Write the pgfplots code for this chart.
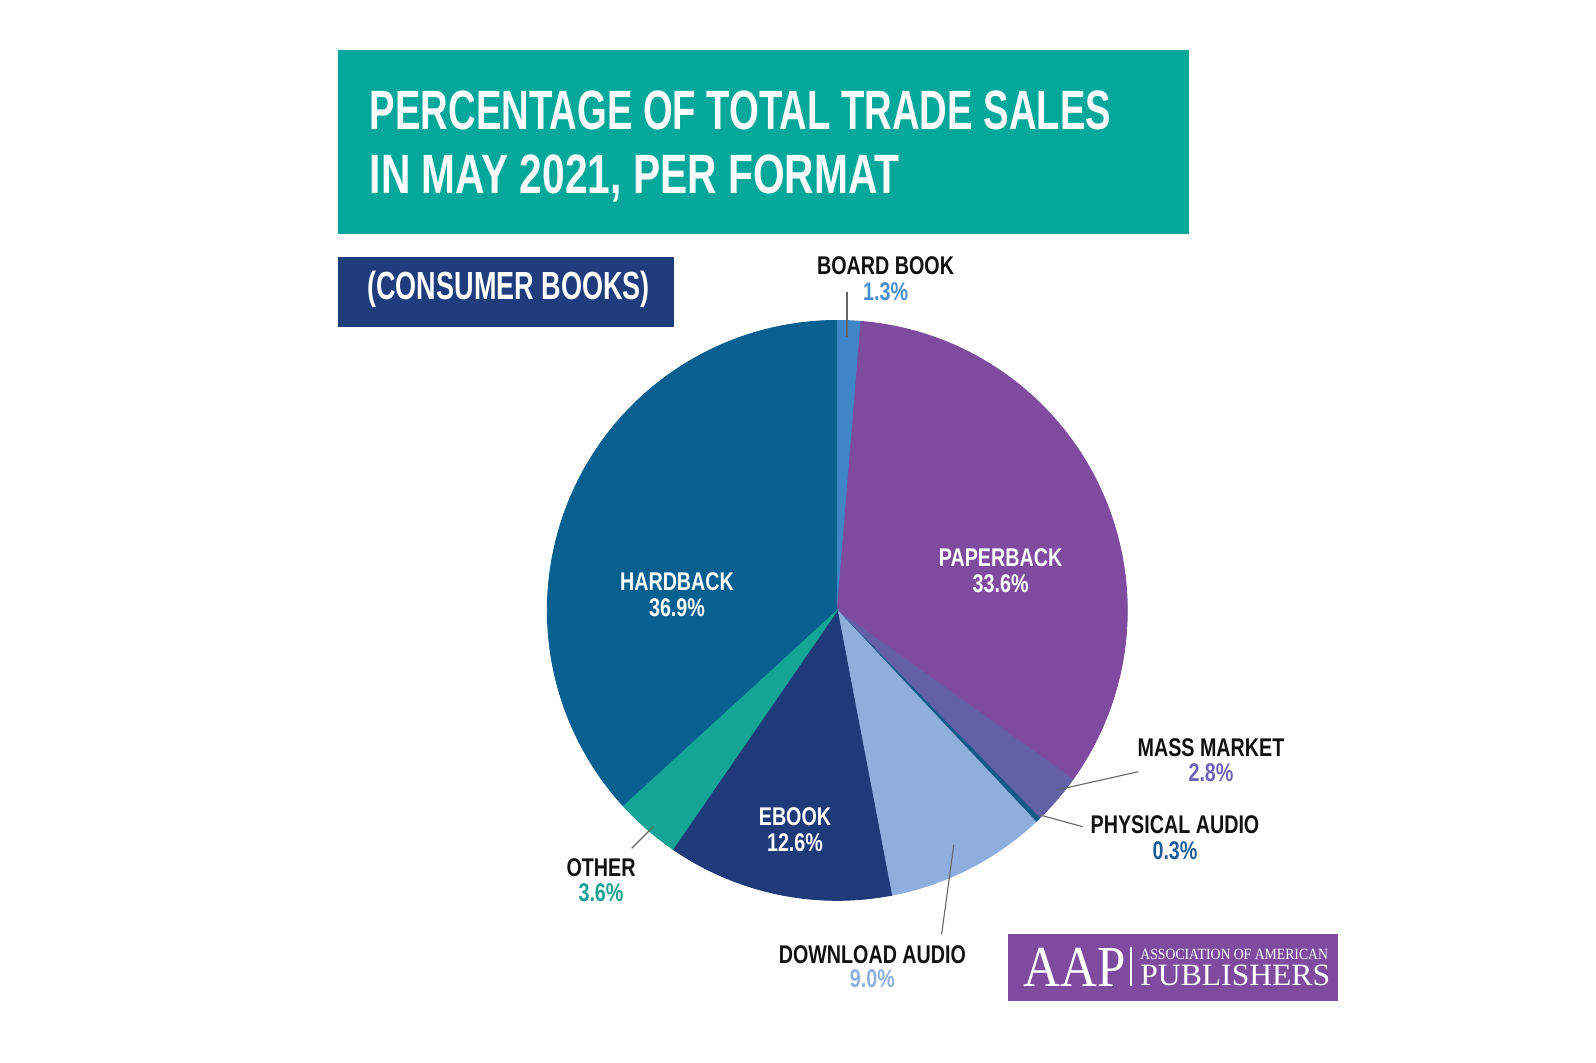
\documentclass[border=0pt]{standalone}
\usepackage{pgfplots}
\pgfplotsset{compat=1.18}
\usepackage{fontspec}
\setmainfont{Liberation Sans}
\newfontfamily\condA[FakeStretch=0.69]{Liberation Sans}
\newfontfamily\condAA[FakeStretch=0.735]{Liberation Sans}
\newfontfamily\condB[FakeStretch=0.77]{Liberation Sans}
\newfontfamily\serifA[FakeStretch=0.88]{Liberation Serif}
\newfontfamily\serifB[FakeStretch=0.88]{Liberation Serif}
\newfontfamily\serifC[FakeStretch=1.02]{Liberation Serif}

\definecolor{titleteal}{HTML}{03A89B}
\definecolor{subnavy}{HTML}{1F3C7C}
\definecolor{logopurple}{HTML}{7E4B9E}
\definecolor{cHard}{HTML}{07608F}
\definecolor{cBoard}{HTML}{3E86C6}
\definecolor{cPaper}{HTML}{7E4B9E}
\definecolor{cMass}{HTML}{6360A8}
\definecolor{cPhys}{HTML}{125B88}
\definecolor{cDown}{HTML}{8EAEDD}
\definecolor{cEbook}{HTML}{1F3A78}
\definecolor{cOther}{HTML}{14A596}
\definecolor{tBoard}{HTML}{4A8FD0}
\definecolor{tMass}{HTML}{6B63B5}
\definecolor{tPhys}{HTML}{1F5E99}
\definecolor{tOther}{HTML}{17A393}
\definecolor{tDown}{HTML}{8EB0DF}
\definecolor{lead}{HTML}{666666}
\definecolor{ink}{HTML}{111111}

% slice: colour, cumulative percent before, cumulative percent after (clockwise from top)
\newcommand{\pieslice}[3]{%
  \addplot[fill=#1, draw=#1, line width=0.4pt, data cs=polar,
    domain={90-3.6*(#3)}:{90-3.6*(#2)}, samples=120]
    ({x},{290}) -- (axis cs:0,0) -- cycle;}

\begin{document}
\begin{tikzpicture}
\path[use as bounding box] (0,0) rectangle (798pt,531pt);
\begin{axis}[
  at={(0,0)}, anchor=south west,
  scale only axis, width=798pt, height=531pt,
  xmin=-837.3, xmax=758.7, ymin=-451.6, ymax=610.4,
  hide axis, clip=false]
% values (percent): Hardback 36.9, Board book 1.3, Paperback 33.6, Mass market 2.8,
% Physical audio 0.3, Download audio 9.0, Ebook 12.6, Other 3.6
\pieslice{cHard}{1.3+33.6+2.8+0.3+9.0+12.6+3.6}{1.3+33.6+2.8+0.3+9.0+12.6+3.6+36.9}
\pieslice{cBoard}{0}{1.3}
\pieslice{cPaper}{1.3}{1.3+33.6}
\pieslice{cMass}{1.3+33.6}{1.3+33.6+2.8}
\pieslice{cPhys}{1.3+33.6+2.8}{1.3+33.6+2.8+0.3}
\pieslice{cDown}{1.3+33.6+2.8+0.3}{1.3+33.6+2.8+0.3+9.0}
\pieslice{cEbook}{1.3+33.6+2.8+0.3+9.0}{1.3+33.6+2.8+0.3+9.0+12.6}
\pieslice{cOther}{1.3+33.6+2.8+0.3+9.0+12.6}{1.3+33.6+2.8+0.3+9.0+12.6+3.6}
\end{axis}

\begin{scope}[x=0.5pt, y=-0.5pt, shift={(0pt,531pt)}]
% title boxes
\fill[titleteal] (338,50) rectangle (1188.5,234.5);
\fill[subnavy] (338,256.7) rectangle (674,326.7);
\fill[logopurple] (1008,934) rectangle (1337.5,1000.5);

\node[anchor=base west, inner sep=0, text=white, font=\condA\bfseries\fontsize{27.7}{30}\selectfont] at (369.5,129.3) {PERCENTAGE OF TOTAL TRADE SALES};
\node[anchor=base west, inner sep=0, text=white, font=\condAA\bfseries\fontsize{27.7}{30}\selectfont] at (369.5,193.4) {IN MAY 2021, PER FORMAT};
\node[anchor=base west, inner sep=0, text=white, font=\condA\bfseries\fontsize{19.6}{22}\selectfont] at (367,300) {(CONSUMER BOOKS)};

% leader lines
\draw[lead, line width=0.55pt] (847,292) -- (847,337);
\draw[lead, line width=0.55pt] (1138.3,771.7) -- (1056.7,790);
\draw[lead, line width=0.55pt] (1082.7,826.7) -- (1040,815);
\draw[lead, line width=0.55pt] (631.7,848.3) -- (653.3,826.7);
\draw[lead, line width=0.55pt] (941.6,934.4) -- (953.8,844.9);

\tikzset{lab/.style={anchor=base, inner sep=0, font=\condB\bfseries\fontsize{12.8}{14}\selectfont}}
\node[lab, text=ink] at (885.6,274.8) {BOARD BOOK};
\node[lab, text=tBoard] at (885.6,301) {1.3\%};
\node[lab, text=white] at (1000.6,567) {PAPERBACK};
\node[lab, text=white] at (1000.6,592.4) {33.6\%};
\node[lab, text=white] at (677,590.4) {HARDBACK};
\node[lab, text=white] at (677,616.9) {36.9\%};
\node[lab, text=white] at (795,825.5) {EBOOK};
\node[lab, text=white] at (795,851) {12.6\%};
\node[lab, text=ink] at (1211,756) {MASS MARKET};
\node[lab, text=tMass] at (1211,781.5) {2.8\%};
\node[lab, text=ink] at (1175,833.7) {PHYSICAL AUDIO};
\node[lab, text=tPhys] at (1175,859) {0.3\%};
\node[lab, text=ink] at (601,876) {OTHER};
\node[lab, text=tOther] at (601,901) {3.6\%};
\node[lab, text=ink] at (872.4,963) {DOWNLOAD AUDIO};
\node[lab, text=tDown] at (872.4,987.4) {9.0\%};

% logo
\node[anchor=base west, inner sep=0, text=white, font=\serifA\fontsize{29}{30}\selectfont] at (1023,986) {AAP};
\draw[white, line width=0.6pt] (1131,947) -- (1131,986);
\node[anchor=base west, inner sep=0, text=white, font=\serifB\fontsize{7.8}{8}\selectfont] at (1140,959.5) {ASSOCIATION OF AMERICAN};
\node[anchor=base west, inner sep=0, text=white, font=\serifC\fontsize{15.5}{16}\selectfont] at (1140,985) {PUBLISHERS};
\end{scope}
\end{tikzpicture}
\end{document}
